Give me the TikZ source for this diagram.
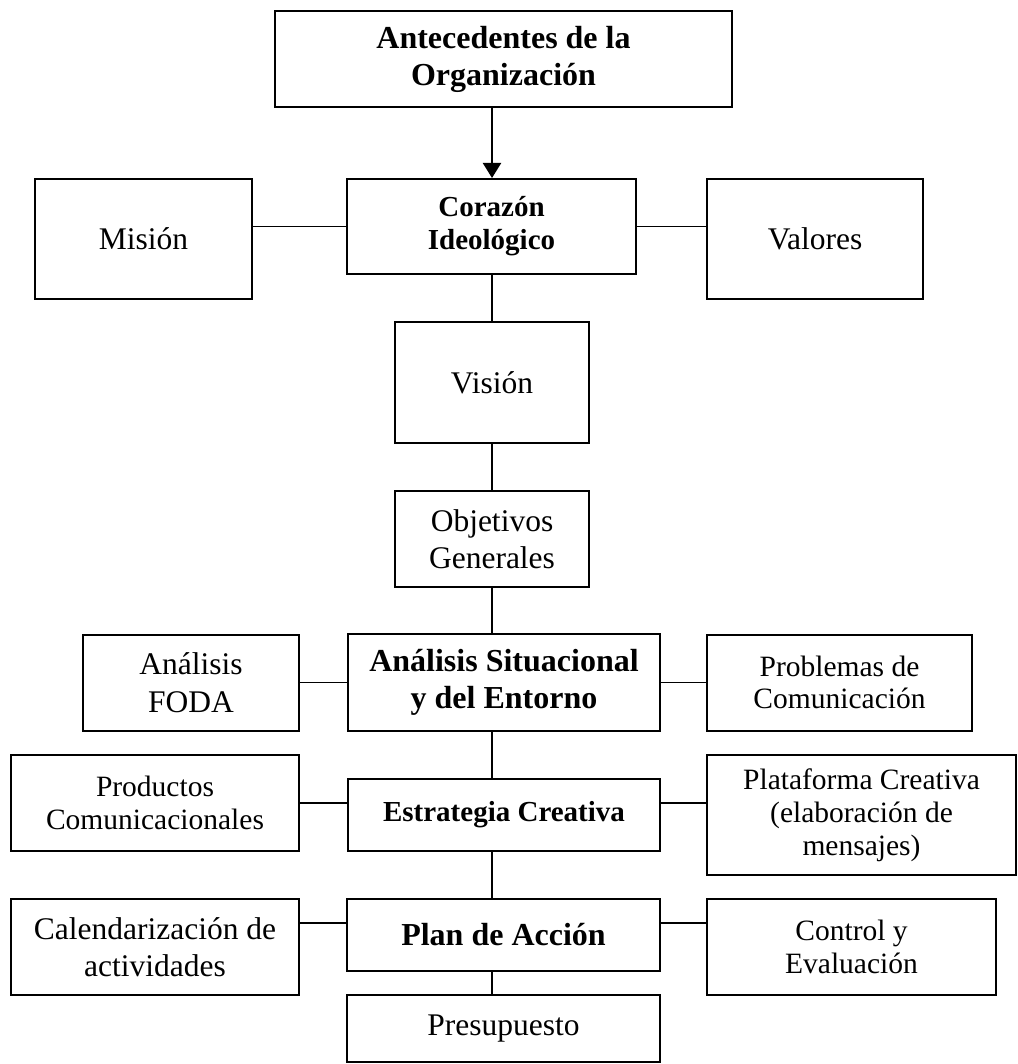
\documentclass[tikz,border=0pt]{standalone}
\usepackage{fontspec}
\setmainfont{Liberation Serif}
\usetikzlibrary{arrows.meta}
\begin{document}
\begin{tikzpicture}[x=1pt,y=-1pt,
        caja/.style={draw,line width=2pt,align=center,inner sep=0pt},
        grande/.style={font=\fontsize{31.5}{36.5}\selectfont},
        chica/.style={font=\fontsize{29.5}{33}\selectfont},
        negra/.style={font=\fontsize{32}{37}\selectfont\bfseries},
        negrachica/.style={font=\fontsize{29}{33}\selectfont\bfseries},
        linea/.style={line width=1.5pt}]
    \useasboundingbox (0,0) rectangle (1017,1064);
    \coordinate (eje) at (492,0);
    \coordinate (pl) at (0,923);
    \node [caja,negra,minimum width=457pt,minimum height=96pt] (antec) at (503.5,59) {Antecedentes de la\\Organización};
    \node [caja,negrachica,minimum width=289pt,minimum height=95pt] (corazon) at (491.5,226.5) {Corazón\\Ideológico};
    \node [caja,grande,minimum width=217pt,minimum height=120pt] (mision) at (143.5,239) {Misión};
    \node [caja,grande,minimum width=216pt,minimum height=120pt] (valores) at (815,239) {Valores};
    \node [caja,grande,minimum width=194pt,minimum height=121pt] (vision) at (492,382.5) {Visión};
    \node [caja,grande,minimum width=194pt,minimum height=96pt] (objetivos) at (492,539) {Objetivos\\Generales};
    \node [caja,negra,minimum width=312pt,minimum height=97pt] (analisis) at (504,682.5) {Análisis Situacional\\y del Entorno};
    \node [caja,grande,minimum width=216pt,minimum height=96pt,font=\fontsize{31.5}{38}\selectfont] (foda) at (191,682.5) {Análisis\\FODA};
    \node [caja,chica,minimum width=265pt,minimum height=96pt,font=\fontsize{29.5}{32}\selectfont] (problemas) at (839.5,682.5) {Problemas de\\Comunicación};
    \node [caja,negrachica,minimum width=312pt,minimum height=72pt] (estrategia) at (504,815) {Estrategia Creativa};
    \node [caja,chica,minimum width=288pt,minimum height=96pt] (productos) at (155,803) {Productos\\Comunicacionales};
    \node [caja,chica,minimum width=309pt,minimum height=120pt] (plataforma) at (861.5,815) {Plataforma Creativa\\(elaboración de\\mensajes)};
    \node [caja,negra,minimum width=313pt,minimum height=72pt] (plan) at (503.5,935) {Plan de Acción};
    \node [caja,grande,minimum width=288pt,minimum height=96pt] (calend) at (155,947) {Calendarización de\\actividades};
    \node [caja,chica,minimum width=289pt,minimum height=96pt] (control) at (851.5,947) {Control y\\Evaluación};
    \node [caja,grande,minimum width=313pt,minimum height=67pt] (presup) at (503.5,1028.5) {Presupuesto};
    \draw [line width=2.2pt,-{Triangle[width=18pt,length=15pt]}] (eje |- antec.south) -- (eje |- corazon.north);
    \draw [linea] (mision.east |- corazon.west) -- (corazon.west);
    \draw [linea] (corazon.east) -- (valores.west |- corazon.east);
    \draw [linea] (eje |- corazon.south) -- (vision.north);
    \draw [linea] (vision.south) -- (objetivos.north);
    \draw [linea] (objetivos.south) -- (eje |- analisis.north);
    \draw [linea] (foda.east) -- (analisis.west);
    \draw [linea] (analisis.east) -- (problemas.west);
    \draw [linea] (eje |- analisis.south) -- (eje |- estrategia.north);
    \draw [linea] (productos.east) -- (estrategia.west |- productos.east);
    \draw [linea] (estrategia.east |- productos.east) -- (plataforma.west |- productos.east);
    \draw [linea] (eje |- estrategia.south) -- (eje |- plan.north);
    \draw [linea] (calend.east |- pl) -- (plan.west |- pl);
    \draw [linea] (plan.east |- pl) -- (control.west |- pl);
    \draw [linea] (eje |- plan.south) -- (eje |- presup.north);
\end{tikzpicture}
\end{document}
